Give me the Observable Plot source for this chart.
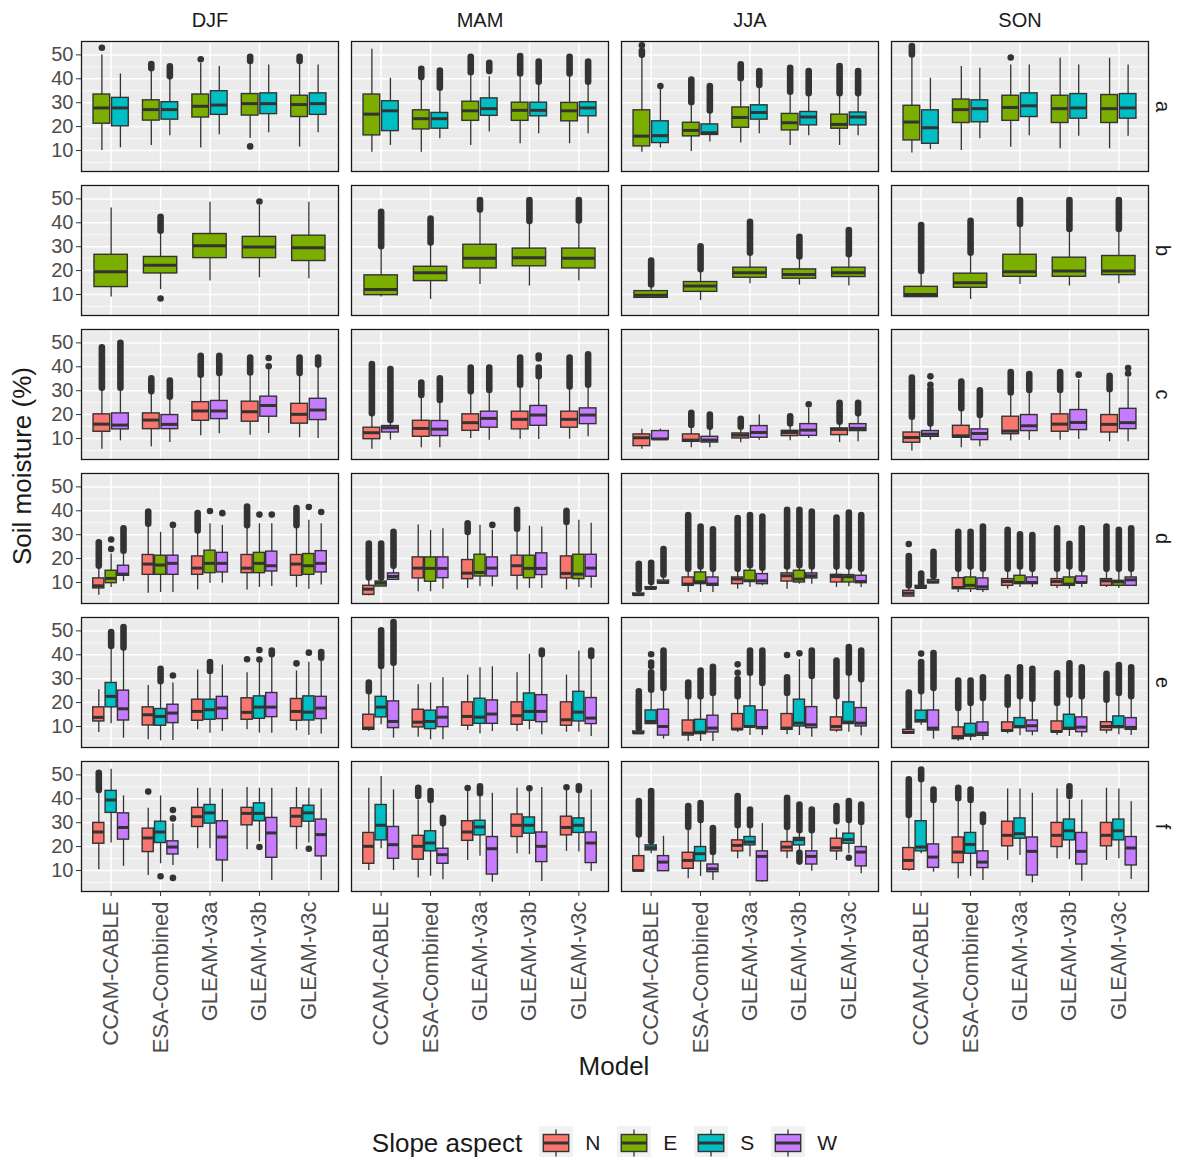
<!DOCTYPE html>
<html><head><meta charset="utf-8">
<script src="https://cdn.jsdelivr.net/npm/d3@7"></script>
<script src="https://cdn.jsdelivr.net/npm/@observablehq/plot@0.6"></script>
<style>
body{margin:0;background:#fff;font-family:"Liberation Sans",Arial,sans-serif;}
#legend{display:flex;align-items:center;justify-content:center;height:36px;margin-top:35px;padding-left:48px;color:#1A1A1A;}
#legend .ttl{font-size:26px;margin-right:17px;}
#legend .lab{font-size:21px;margin:0 17px 0 12px;}
</style></head><body><div id="chart"></div><div id="legend"></div>
<script>
const seasons = ["DJF","MAM","JJA","SON"];
const rows = ["a","b","c","d","e","f"];
const models = ["CCAM-CABLE","ESA-Combined","GLEAM-v3a","GLEAM-v3b","GLEAM-v3c"];
const aspects = ["N","E","S","W"];
const aspectColors = ["#F8766D","#7CAE00","#00BFC4","#C77CFF"];
const yTicks = [10,20,30,40,50];
const yMinor = [5,15,25,35,45,55];

// each entry: [lower whisker, Q1, median, Q3, upper whisker, ...outliers]
// an outlier given as [from, to] is a dense run of points; order: DJF x5 models, MAM, JJA, SON
const a_E = [
 [10,21.2,27.8,33.4,50,53],[12.1,22.5,27.1,31,43.7,[44.2,46]],[11,23.8,28.5,33.4,46.5,48.2],[15,24.6,29.6,33.6,46.5,[47.2,49],11.7],[11.4,24,29.2,32.9,46.5,[47.2,49]],
 [9.3,16.3,25.2,33.4,52.4],[9.3,18.8,23.3,26.8,39.5,[40.5,44]],[12.1,22.4,26.6,30.4,42,[42.5,49]],[12.8,22.4,26.8,30,41.5,[42,49.3]],[12.8,22.2,26.6,29.9,41.5,[42,49]],
 [9.3,11.7,16,26.8,49.3,[49.8,51.5],54],[9.6,15.9,18.4,21.6,29.6,[30,39.5]],[13.1,19.5,23.8,28,39.5,[40,45.8]],[12.1,18.4,21.6,25.3,33.9,[34.4,44.4]],[12.1,19.1,20.9,25,33.2,[33.7,45.1]],
 [8.9,14.2,21.9,28.7,49,[50,53.5]],[10,21.5,27.1,31.3,45.1],[11.4,22.4,28,32.9,45.8,48.9],[10.7,21.5,27.5,32.9,48.6],[10.7,21.5,27.5,33.2,48.6]];
const a_S = [
 [11.1,20.1,27.8,32,42],[16.2,22.9,27.1,30.2,40.2,[40.8,45]],[16.6,24.9,29,34.8,45.1],[17.4,25.2,29.6,33.9,45.8],[17.4,24.9,29.6,33.9,45.8],
 [12.1,18.1,26.6,30.6,40.2],[14.9,19.1,23.3,25.7,34.6,[36,43.2]],[17.7,24.5,27.5,31.8,40.9,[43,46.5]],[17,24.3,26.8,30,38,[38.5,47]],[17,24.3,27.8,30.2,38,[38.5,47]],
 [11,13.1,16.2,22.2,35.5,37],[13.5,16.5,17.4,20.9,26,[26.5,36.7]],[17,22.9,25.9,28.9,36.7,[37.2,43]],[16.2,20.5,24,26.1,33.2,[33.7,43]],[16.2,20.5,24,25.9,33.2,[33.7,43]],
 [10.4,12.8,19.5,26.8,40.2],[14.9,21.8,27.5,31,44.4],[16.2,24,28.7,33.9,45.8],[15.9,23.3,27.8,33.6,45.8],[15.9,23.3,27.8,33.6,45.8]];
const b_E = [
 [8.9,13.1,19.5,26.6,46.2],[12,18.8,22.2,25.7,36,[36.5,42.3],8.3],[15.6,25.2,30.4,35.3,48.6],[17,25.2,29.9,34.1,47.2,48.9],[16.6,24,29.6,34.6,48.6],
 [8.9,9.7,12.1,18,29.6,[30,44.4]],[7.9,15.6,19.1,21.6,31,[31.5,41.6]],[14.2,20.9,25.2,30.8,45,[45.3,49.3]],[13.5,21.8,25.4,29.2,40,[40.5,49.3]],[15.6,20.9,25.2,29.2,40.2,[40.7,49.3]],
 [8.4,8.6,9.7,11.4,13.5,[14,24]],[7.5,11.1,13.5,15.2,19.8,[20.3,30]],[14.5,17,19.1,21.2,26.8,[27.3,40.2]],[13.9,16.6,18.4,20.5,25.2,[25.7,33.9]],[13.5,17.3,19.1,21.2,26.1,[26.6,36.7]],
 [8.6,8.9,10,13.2,19.1,[19.6,38.8]],[7.9,12.8,14.9,18.7,26.8,[27.3,40.6]],[14.2,17.4,19.5,26.6,38.8,[39.3,49.3]],[13.5,17.4,19.8,25.4,36.7,[37.2,49.3]],[14.5,18.1,19.8,26.1,36.7,[37.2,49.3]]];
const c_N = [
 [5.5,12.8,16,20.1,30.4,[31,47.9]],[6.5,13.9,17.7,20.5,29,[29.5,35]],[11.1,17.4,21.5,25.2,36,[36.5,44.4]],[11.4,17,21.2,25.4,36.9,[37.4,43.7]],[10.3,16.2,20.1,24.5,36.7,[37.2,43.7]],
 [5.5,9.7,12.4,14.5,19.8,[20.3,40.9]],[6.1,10.7,14.2,17.4,27.5,[28,33.2]],[10,13.2,16.6,20.1,29,[29.5,39.5]],[9.7,13.8,18,21.2,31.8,[32.3,43.7]],[9.7,14.5,18,21.2,31,[31.5,43.7]],
 [5.5,6.8,10.3,11.7,13.9],[6.1,8.6,9.3,11.7,14.9,[15.4,20.5]],[8.2,10,11.4,12.1,14.2,[14.7,18]],[9,11,12.5,13.2,15.6,[16.1,19.1]],[8.3,11.4,13.8,14.2,16.3,[16.8,24.7]],
 [4.8,8.2,10.4,12.5,18.4,[18.9,35.3]],[6.1,10.3,11.1,15.3,21.9,[22.4,33.6]],[8.9,11.8,13.1,19.1,28.5,[29,37.6]],[9.3,12.8,16,20.1,29.6,[30.1,37.6]],[8.6,12.5,15.9,19.8,29.9,[30.4,36]]];
const c_W = [
 [9,13.8,15.6,20.5,30.4,[31,49.8]],[8.3,13.9,15.9,19.8,26.8,[27.3,34]],[12,18.1,21.5,25.7,36.7,[37.2,44.4]],[12.1,19.1,23.8,27.5,39.5,40.2,43.7],[10,17.7,21.9,26.6,40.2,[40.7,43.7]],
 [9.3,12.5,14.5,15.2,17,[17.5,38.8]],[6.1,11,13.9,17.3,25.4,[25.9,35]],[9.3,14.5,18.4,21.2,29.6,[30.1,39.5]],[9.6,15.3,19.8,23.6,35.3,[35.8,39.5],43.5,44.7],[10.7,16,19.8,22.6,31.8,[32.3,45]],
 [9.2,9.6,9.8,13.1,13.9],[6.1,8.3,9.3,10.7,14.2,[14.7,19.8]],[9.3,10.3,12.5,15.2,19.8],[10,11.1,13.5,16,22.6,24.3],[8.6,13.1,14.2,16,19.8,[20.3,24.7]],
 [9.3,10.7,11.8,13.1,15.6,[16.1,30.4],32.5,36],[6.5,9.3,12.1,13.8,19.1,[19.6,30]],[9.3,13.1,15.3,19.8,29.6,[30.1,36.7]],[9.6,13.5,16.7,21.9,34.6,36.7],[8.6,13.9,16.6,22.4,35.3,37.2,39.5]];
const d_N = [
 [4.7,7.5,8.6,11.7,16.3,[16.8,26.6]],[5.5,13.2,17.7,21.5,33.9,[34.4,39.5]],[6.9,13.2,16,20.9,31,[31.5,38.8]],[6.9,13.9,16,21.5,33.2,[33.7,41.6]],[7.9,12.8,17.7,21.5,33.2,[33.7,40.9]],
 [4.4,4.8,7.2,8.6,11.4,[11.9,26.1]],[6.1,11.7,16,20.5,34.1],[7.5,11.4,13.9,19.4,30.4,[30.9,34.6]],[6.9,12.8,17,21.2,31.8,[32.3,40.2]],[6.9,11.7,13.8,20.9,34.6,[35.1,39.8]],
 [4.3,4.6,4.9,5.4,6.5,[7,17.6]],[5.8,8.6,9.3,12.1,15,[15.5,38]],[7.2,9.3,11.4,12.1,15,[15.5,36.7]],[7.2,10.4,12.8,13.8,16,[16.5,40.2]],[7.9,10,12.5,13.2,16,[16.5,37]],
 [3.9,4.1,5.5,6.5,8,[8.5,20.8],26.1],[5.8,7.2,7.9,11.8,15,[15.5,31]],[7.2,8.6,10.4,11.4,15,[15.5,31.8]],[7.5,8.6,10.4,11.4,15,[15.5,32.5]],[7.9,8.6,10.7,11.4,15,[15.5,33.2]]];
const d_E = [
 [7.9,9.7,11.7,14.9,21.9,24,28],[5.8,13.2,17.3,21.2,31],[9.7,13.9,18,23.3,34.6,39.9],[7.9,13.9,18,22.4,34.6,38.4],[7.2,13.2,17,21.9,36,41.6],
 [8.3,8.3,9.7,10.4,11.4,[11.9,26.1]],[6.1,10.3,15.9,20.5,31.8],[8.2,12.5,14.2,21.6,33.9],[7.5,11.8,15.9,21.2,33.6],[7.9,11.4,13.5,21.6,36],
 [7,7.2,7.5,8,9.5,[10,18]],[5.8,9.3,10.3,14.2,16,[16.5,33.2]],[7.9,10.3,10.7,14.9,16.5,[17,38]],[9.3,10,11.4,14.9,16.5,[17,40.2]],[8.2,10,12.4,13.1,16,[16.5,39]],
 [7.3,7.5,7.9,8.6,9,[9.5,13.5]],[5.8,7.2,8.8,12.1,16,[16.5,31]],[7.9,9.3,10,12.8,16,[16.5,30]],[7.2,8.6,9.3,12.1,16,[16.5,26]],[7.5,8.6,10.3,10.7,15,[15.5,31.8]]];
const d_W = [
 [10.4,12.8,13.5,17,22.6,[23.1,32.5]],[5.8,13.2,18,21.2,32.5,34.1],[9.7,14.2,18,22.4,33.9,39],[8.3,14.6,17,22.9,34.6,38.4],[8.9,14.2,18,23.1,34.6,39.5],
 [11,11.1,12.5,13.8,16.3,[16.8,31]],[7.2,11.8,15.9,20.5,32.5],[8.2,12.5,16,20.5,31.8,34.1],[7.5,13.1,15.9,22.2,33.2],[7.6,12.4,16,21.6,34.8],
 [9.4,9.6,10,10.8,12.5,[13,23.8]],[5.8,8.6,9.3,12.1,15,[15.5,32]],[8.6,9.3,10.7,13.5,15.5,[16,37.4]],[9.3,11.7,12.8,13.8,16,[16.5,39.5]],[7.9,9.7,10.4,12.8,15,[15.5,38]],
 [9.5,9.7,10.2,11,12,[12.5,22.6]],[5.8,6.9,8.2,11.7,15,[15.5,33.2]],[7.9,9.3,10,12.1,15,[15.5,29.6]],[7.9,9.7,10,12.5,15,[15.5,32.5]],[8.3,8.6,11.1,12.1,15,[15.5,32.5]]];
const e_N = [
 [7.5,12.1,13.8,18,25.4],[4.4,10.4,14.9,18,27.1],[8.6,12.4,16.3,21.2,33.6],[8.6,12.8,15.9,21.8,32.5,38.1],[8.2,12.4,16.3,21.5,33.2,36.4],
 [7.9,8.6,9.3,14.9,24,[24.5,28.2]],[5.5,9.6,11.8,17,27.5],[8.3,10.3,14.2,20.1,31.5],[7.9,10.7,14.5,20.1,32.5],[7.6,10.3,12.8,20.1,31.5],
 [7,7.1,7.3,7.9,8.5,[9,23],24.7],[3.7,6.2,7.2,12.5,21.9,[22.4,28.2]],[7.5,8.6,8.9,15.2,21.9,[22.4,29.6],32.5,36],[6.5,8.6,9.3,15.2,23.3,[23.8,30.4],39.9],[7.5,8.3,10,13.8,21.9,[22.4,37.4]],
 [6.9,7,7.5,8.6,9,[9.5,24]],[3.7,4.7,5.8,9.6,17,[17.5,29]],[6.9,7.9,8.3,11.7,18.4,[18.9,30.4]],[6.2,7.6,7.9,12.1,19.1,[19.6,32]],[6.9,8.3,10,11.8,20.5,[21,31.8]]];
const e_S = [
 [11.1,18,22.6,28.2,43,[43.5,49.3]],[4,10.3,14.2,17.3,28.2,[28.7,33.9]],[7.2,12.8,17,21.2,32.5,[33,36.7]],[7.2,13.2,18.1,22.6,36.7,38,42],[6.2,12.5,16,22.6,36.9,40.9],
 [10.7,13.8,18.1,22.4,34.6,[35.1,50]],[4.4,8.9,12.1,16.6,28.2],[6.9,11.1,13.9,21.6,34.6],[8.6,12.4,16.3,23.8,40.2],[7.6,12.1,16,24.5,41.6],
 [10.7,11,12.1,16.7,24.7,[25.2,32.5],35.3,36.7,40.2],[3.7,6.8,7.6,12.8,21.9,[22.4,33.2]],[6.2,9.6,10,18.4,31.8,[32.3,41.6]],[6.2,10,11.4,21.2,38,40.6],[7.6,11,11.8,20.1,31.8,[32.3,43]],
 [10.4,11.7,12.5,16.6,24,[24.5,36.7],40.5],[4,5.8,6.5,11.1,19.1,[19.6,29]],[6.1,9.3,10,13.5,21.9,[22.4,34.6]],[5.8,8.6,9.3,14.9,22.6,[23.1,36.2]],[6.5,9.3,10,14.2,23.3,[23.8,35.5]]];
const e_W = [
 [5.1,12.5,17.4,25,42.3,[42.8,51.4]],[4.1,11.4,15.6,19.1,28.2,31.3],[7.9,13.1,17.7,22.4,35.7],[7.2,13.9,18.1,24,39.5,[40,41.6]],[6.9,13.1,17.7,22.4,38,[38.5,40.9]],
 [5.1,9.3,12.1,20.5,36,[36.5,53.5]],[4.4,9.7,13.9,18,30.4],[7.9,11.1,15.2,20.9,35],[6.5,11.8,16.3,23.1,39.5,[40,41.6]],[5.8,11,13.5,21.9,38.8,[39.3,41.6]],
 [4.7,6.2,10,17,25.4,[25.9,41.6]],[3.7,7.5,9.3,14.5,23.3,[23.8,34.8]],[6.2,8.9,9.6,16.7,27.5,[28,41.6]],[5.5,9.3,10.7,18.1,30.4,[30.9,41.6]],[6.1,10,11.4,17.7,29,[29.5,41.6]],
 [4.7,8.3,9.3,16.7,25.4,[25.9,40.5]],[4.1,6.1,7.2,11.7,21.2,[21.7,30.4]],[6.1,7.9,10.3,12.5,20.9,[21.4,33.9]],[5.5,7.6,9.7,13.8,21.9,[22.4,34.6]],[6.2,8.6,9.6,13.5,21.9,[22.4,34.6]]];
const f_N = [
 [10.3,21.2,26.1,29.9,43,[43.5,50.7]],[7.9,17.7,23.6,27.5,36,43],[19.1,28.2,32.5,36.2,44.4],[18.7,28.9,33.9,36.2,44.7],[18.7,28.2,32.7,36,44.7],
 [10,12.8,20.1,25.7,44.4],[6.8,14.5,20.1,24.5,39.5,[41,44.4]],[14.2,22.4,26.1,30.6,43.5,44.5],[17,24,28.9,33.4,44.4],[18,24.7,28,32.5,43.7,44.8],
 [9.7,9.7,10,16,24.3,[24.8,38.8]],[6.5,10.7,14.2,17.4,27.5,[28,36.7]],[14.9,18,20.5,22.6,28.2,[28.7,40.9]],[14.9,18,19.8,21.9,27.5,[28,40.2]],[14.2,18,19.5,23.3,27.5,[30.4,36.7]],
 [9.7,10.3,14.2,19.4,32.5,[33,47.9]],[6.5,13.1,17.7,23.8,39.5,[40,44.4]],[14.2,20.1,24.7,30.4,44.1],[14.9,19.8,24.7,29.9,44.1],[14.2,20.1,24.7,29.9,44.4]];
const f_S = [
 [21.5,34.1,39.5,43.3,52.4],[12.8,21.5,26.1,30.4,41.2,7.6],[19.1,29.6,34.1,37.4,44.4],[21.9,30.6,33.9,38.1,44.4,19.8],[21.5,30.4,34.1,37.1,44.4,19.1],
 [19.1,22.6,28.9,37.4,49.3],[7.6,18,21.5,26.4,38.8,[39.3,43]],[15.9,24.7,28.2,30.8,41.6,[42.1,45]],[16.6,25.4,28.9,32.2,43,44.4],[17.7,25.7,28.9,31.8,43,[43.5,45]],
 [17,18.4,19.5,20.5,21.5,[22,43]],[7.5,13.8,17,19.8,30.4,[30.9,38]],[15.6,20.5,21.9,24,28.2,[28.7,35.3]],[17.7,20.5,22.9,23.6,26.1,[26.6,37.4],[13.5,17.2]],[17,21.2,22.9,25.4,30.4,[30.9,38.8],15.3],
 [17,18,19.8,30.6,47.2,[48,52]],[7.5,17,20.9,25.7,38.8,[39.3,43.7]],[16.3,23.3,25.4,31.8,44.1],[14.5,22.6,26.6,31.3,39.5,[41,45]],[14.9,22.6,26.6,31.3,44.1]];
const f_W = [
 [11.7,22.9,28,33.9,41.2],[12.1,16.7,19.8,22.2,29.6,31.8,35.3,6.9],[5.1,14.2,24,30.6,44],[5.8,15.3,25.7,32,44.4],[5.8,15.9,25,31.3,44.1],
 [10,14.9,20.8,28.2,43.7],[6.1,12.8,16.6,19.1,29,[29.5,31.8]],[5.1,8.3,19.1,24,42.3],[5.4,13.5,20.1,25.9,44.7],[9.6,13.1,21.5,25.9,43.7],
 [9.7,9.7,13.5,16,24.3],[5.8,9.3,10.7,12.5,17,[17.5,27.5]],[5.1,5.5,15.9,18,29.6],[9.7,12.5,15.9,18,26.1,[26.6,35.3]],[8.6,11.7,17.7,19.8,29.6,[30.1,37.4]],
 [9.3,11.1,15.6,20.9,38.8,[39.3,43.7]],[5.8,11,13.5,18,29.6,[30.1,33.2]],[4.8,7.9,18,23.8,42.3],[5.5,12.5,18,25.7,39.5],[6.2,12.1,19.4,24,38.8]];

const series = [
 ["a","E",a_E],["a","S",a_S],["b","E",b_E],["c","N",c_N],["c","W",c_W],
 ["d","N",d_N],["d","E",d_E],["d","W",d_W],["e","N",e_N],["e","S",e_S],["e","W",e_W],
 ["f","N",f_N],["f","S",f_S],["f","W",f_W]];

// build tables (dodged like ggplot: total width 0.75, 10% padding per box)
const groups = d3.group(series, d => d[0]);
const boxes = [], outPts = [], outRuns = [];
for (const [row, asp, stats] of series) {
  const g = groups.get(row).map(d => d[1]).sort((p, q) => aspects.indexOf(p) - aspects.indexOf(q));
  const n = g.length, k = g.indexOf(asp);
  stats.forEach((s, i) => {
    const season = seasons[Math.floor(i / 5)], m = (i % 5) + 1;
    const xc = m - 0.375 + (k + 0.5) * 0.75 / n, hw = 0.45 * 0.75 / n;
    const [low, q1, med, q3, high, ...outs] = s;
    boxes.push({row, season, aspect: asp, xc, x1: xc - hw, x2: xc + hw, low, q1, med, q3, high});
    for (const o of outs) {
      if (Array.isArray(o)) outRuns.push({row, season, x: xc, y1: o[0], y2: o[1]});
      else outPts.push({row, season, x: xc, y: o});
    }
  });
}

const ink = "#333333";
const svg = Plot.plot({
  width: 1178, height: 1090,
  marginLeft: 80, marginRight: 30, marginTop: 40, marginBottom: 198,
  style: {fontFamily: '"Liberation Sans", Arial, sans-serif', background: "#fff"},
  x: {domain: [0.4, 5.6]},
  y: {domain: [1.2, 55.6]},
  fx: {domain: seasons, paddingInner: 0.05, paddingOuter: 0},
  fy: {domain: rows, paddingInner: 0.1, paddingOuter: 0},
  color: {domain: aspects, range: aspectColors},
  marks: [
    Plot.frame({fill: "#EBEBEB", stroke: null}),
    Plot.ruleY(yMinor, {stroke: "#fff", strokeWidth: 0.7}),
    Plot.ruleY(yTicks, {stroke: "#fff", strokeWidth: 1.5}),
    Plot.ruleX([1, 2, 3, 4, 5], {stroke: "#fff", strokeWidth: 1.5}),
    Plot.ruleX(outRuns, {x: "x", y1: "y1", y2: "y2", fx: "season", fy: "row", stroke: ink, strokeWidth: 6.6, strokeLinecap: "round"}),
    Plot.dot(outPts, {x: "x", y: "y", fx: "season", fy: "row", r: 3.3, fill: ink, stroke: null}),
    Plot.ruleX(boxes, {x: "xc", y1: "low", y2: "q1", fx: "season", fy: "row", stroke: ink, strokeWidth: 1.3}),
    Plot.ruleX(boxes, {x: "xc", y1: "q3", y2: "high", fx: "season", fy: "row", stroke: ink, strokeWidth: 1.3}),
    Plot.rect(boxes, {x1: "x1", x2: "x2", y1: "q1", y2: "q3", fx: "season", fy: "row", fill: "aspect", stroke: ink, strokeWidth: 1.4}),
    Plot.ruleY(boxes, {y: "med", x1: "x1", x2: "x2", fx: "season", fy: "row", stroke: ink, strokeWidth: 3}),
    Plot.frame({stroke: "#1A1A1A", strokeWidth: 1.3}),
    Plot.axisY({ticks: yTicks, tickSize: 5, tickPadding: 3, fontSize: 20, fill: "#4D4D4D", stroke: ink, label: null}),
    Plot.axisX({ticks: [1, 2, 3, 4, 5], tickFormat: d => models[d - 1], tickRotate: -90, tickSize: 5, tickPadding: 5, fontSize: 22, fill: "#4D4D4D", stroke: ink, label: null}),
    Plot.axisFx({anchor: "top", tickSize: 0, tickPadding: 15, fontSize: 20, fill: "#1A1A1A", label: null}),
    Plot.axisFy({anchor: "right", tickSize: 0, tickPadding: 22, tickRotate: 90, fontSize: 20, fill: "#1A1A1A", label: null})
  ]
});

const s = d3.select(svg);
s.append("text").attr("transform", "translate(24,466) rotate(-90)")
  .attr("text-anchor", "middle").attr("dominant-baseline", "middle")
  .attr("font-size", 26).attr("fill", "#1A1A1A").text("Soil moisture (%)");
s.append("text").attr("x", 614).attr("y", 1068)
  .attr("text-anchor", "middle").attr("dominant-baseline", "middle")
  .attr("font-size", 26).attr("fill", "#1A1A1A").text("Model");
document.getElementById("chart").appendChild(svg);

// legend
const leg = d3.select("#legend");
leg.append("span").attr("class", "ttl").text("Slope aspect");
aspects.forEach((a, i) => {
  const k = leg.append("svg").attr("width", 34).attr("height", 34);
  k.append("rect").attr("width", 34).attr("height", 34).attr("fill", "#F2F2F2");
  k.append("line").attr("x1", 17).attr("x2", 17).attr("y1", 3.4).attr("y2", 30.6).attr("stroke", ink).attr("stroke-width", 1.3);
  k.append("rect").attr("x", 4.25).attr("y", 8.5).attr("width", 25.5).attr("height", 17)
    .attr("fill", aspectColors[i]).attr("stroke", ink).attr("stroke-width", 1.4);
  k.append("line").attr("x1", 4.25).attr("x2", 29.75).attr("y1", 17).attr("y2", 17).attr("stroke", ink).attr("stroke-width", 3);
  leg.append("span").attr("class", "lab").text(a);
});
</script></body></html>
